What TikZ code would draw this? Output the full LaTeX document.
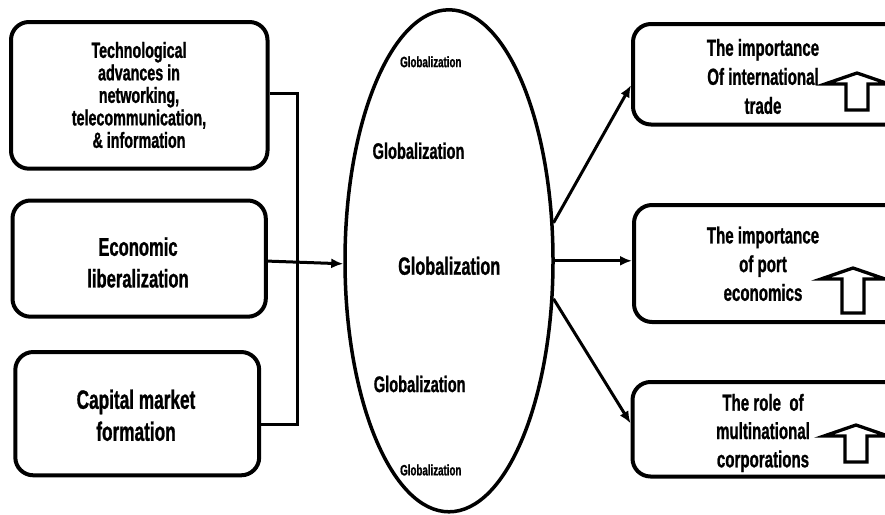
\documentclass[tikz,border=0pt]{standalone}
\usepackage{fontspec}
\newfontfamily\condfont{Liberation Sans}[FakeStretch=0.65, FakeBold=1]
\usetikzlibrary{shapes.geometric,arrows.meta}
\begin{document}
\begin{tikzpicture}[x=1pt,y=-1pt,
  box/.style={draw, line width=4pt, rounded corners=18pt, inner sep=0pt},
  lbl/.style={align=center, inner sep=0pt},
  link/.style={line width=3pt, -{Latex[length=12pt,width=10pt]}},
  pics/uparr/.style={code={
    \draw[line width=3.3pt, line join=miter]
      (0,0) -- (32,11) -- (11,11) -- (11,#1) -- (-11,#1) -- (-11,11) -- (-32,11) -- cycle;}}]
\fill[white] (0,0) rectangle (885,514);
\clip (0,0) rectangle (885,514);

% left-hand boxes
\node[box, minimum width=256.5pt, minimum height=146.7pt] (b1) at (139.25,95.35) {};
\node[box, minimum width=253.3pt, minimum height=116.2pt] (b2) at (139.15,258.6) {};
\node[box, minimum width=243.9pt, minimum height=123.3pt] (b3) at (137.25,413.65) {};

% right-hand boxes (run off the right edge)
\node[box, minimum width=272pt, minimum height=100.5pt] (b4) at (769,74.25) {};
\node[box, minimum width=271pt, minimum height=117pt] (b5) at (769.5,263.5) {};
\node[box, minimum width=272.5pt, minimum height=94.5pt] (b6) at (768.75,429.25) {};

% central ellipse
\node[draw, ellipse, line width=3.5pt, minimum width=208pt, minimum height=502pt, inner sep=0pt] (glob) at (449,260.8) {};

% box texts
\node[lbl, font=\condfont\bfseries\fontsize{22}{22.5}\selectfont] (t1) at (139,95)
  {Technological\\advances in\\networking,\\telecommunication,\\\& information};
\node[lbl, font=\condfont\bfseries\fontsize{25.5}{31.7}\selectfont] (t2) at (138,262.5)
  {Economic\\liberalization};
\node[lbl, font=\condfont\bfseries\fontsize{26.5}{32}\selectfont] (t3) at (136,415.3)
  {Capital market\\formation};
\node[lbl, font=\condfont\bfseries\fontsize{23.2}{29}\selectfont] (t4) at (763,76.5)
  {The importance\\Of international\\trade};
\node[lbl, font=\condfont\bfseries\fontsize{23.2}{28.7}\selectfont] (t5) at (763,263.8)
  {The importance\\of port\\economics};
\node[lbl, font=\condfont\bfseries\fontsize{23.2}{28.3}\selectfont] (t6) at (763,433)
  {The role\ \ of\\multinational\\corporations};

% labels inside the ellipse
\node[lbl, font=\condfont\bfseries\fontsize{15}{18}\selectfont] (g1) at (430.8,61.8) {Globalization};
\node[lbl, font=\condfont\bfseries\fontsize{22.5}{26}\selectfont] (g2) at (418.5,150.8) {Globalization};
\node[lbl, font=\condfont\bfseries\fontsize{25}{30}\selectfont] (g3) at (449.2,265.8) {Globalization};
\node[lbl, font=\condfont\bfseries\fontsize{22.5}{26}\selectfont] (g4) at (419.7,384) {Globalization};
\node[lbl, font=\condfont\bfseries\fontsize{15}{18}\selectfont] (g5) at (430.8,470) {Globalization};

% bracket joining the left boxes
\draw[line width=3pt] ([yshift=2pt]b1.east) -- ++(28,0) coordinate (bk) |- ([yshift=-10.6pt]b3.east);

% connectors
\draw[link] ([yshift=-2.5pt]b2.east) -- ([yshift=-3pt]glob.west);
\draw[link] (glob.20) -- ([yshift=-11pt]b4.west);
\draw[link] (glob.east) -- (glob.east -| b5.west);
\draw[link] (glob.-20) -- ([yshift=6pt]b6.west);

% upward arrows
\pic at (857,73) {uparr=37};
\pic at (853,268) {uparr=45};
\pic at (856,425) {uparr=37};
\end{tikzpicture}
\end{document}
